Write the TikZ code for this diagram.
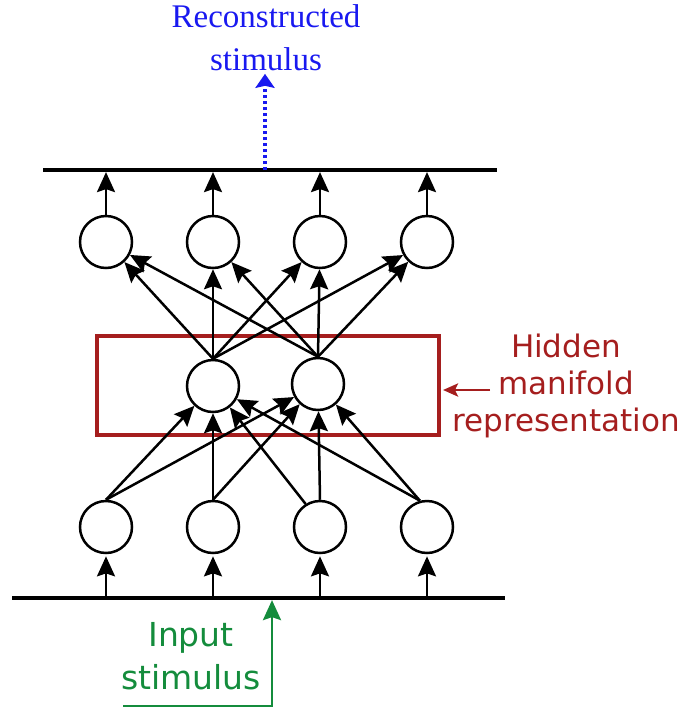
\documentclass[tikz,border=0pt]{standalone}
\usepackage{fontspec}
\setmainfont{Liberation Serif}
\newfontfamily\labelsans{DejaVu Sans}
\usetikzlibrary{arrows.meta}
\definecolor{hidred}{RGB}{165,30,30}
\definecolor{ingreen}{RGB}{20,140,60}
\definecolor{recblue}{RGB}{25,25,240}
\begin{document}
\begin{tikzpicture}[x=1pt,y=-1pt,
  neuron/.style={circle,draw,line width=2.5pt,minimum size=52pt,inner sep=0pt},
  conn/.style={line width=2.5pt,-{Stealth[length=20pt,width=18pt,inset=3pt]}},
  bar/.style={line width=4.2pt}]
\useasboundingbox (0,0) rectangle (680,710);
% bars
\coordinate (tl) at (43,170); \coordinate (tr) at (497,170);
\coordinate (bl) at (12,598); \coordinate (br) at (505,598);
\draw[bar] (tl) -- (tr);
\draw[bar] (bl) -- (br);
% neurons
\foreach \x/\n in {106/1,213/2,320/3,427/4}{
  \node[neuron] (o\n) at (\x,242) {};
  \node[neuron] (i\n) at (\x,527) {};
}
\node[neuron] (h1) at (213,386) {};
\node[neuron] (h2) at (318,384) {};
% hidden box
\node[draw=hidred,line width=4pt,minimum width=342pt,minimum height=99pt,inner sep=0pt] (box) at (268,385.5) {};
% bar arrows
\foreach \n in {1,...,4}{
  \draw[conn,shorten >=2.1pt] (i\n |- bl) -- (i\n);
  \draw[conn,shorten >=2.1pt] (o\n) -- (o\n |- tl);
}
% input to hidden
\draw[conn] (i1.north) -- (h1);
\draw[conn] (i1.north) -- (h2);
\draw[conn] (i2.north) -- (h1);
\draw[conn] (i2.north) -- (h2);
\draw[conn] (i3.122) -- (h1);
\draw[conn] (i3.north) -- (h2);
\draw[conn] (i4.105) -- (h1);
\draw[conn] (i4.105) -- (h2);
% hidden to output
\foreach \h in {1,2}{
  \foreach \o in {1,...,4}{
    \draw[conn] (h\h.north) -- (o\o);
  }
}
% labels
\node[text=recblue,font=\fontsize{33}{43}\selectfont,align=center,inner sep=0pt] (rl) at (266,37.5) {Reconstructed\\stimulus};
\coordinate (rs) at (265,170);
\draw[recblue,line width=3.8pt,dash pattern=on 3pt off 3pt,-{Stealth[length=14pt,width=19pt,inset=2pt]}] (rs) -- ([yshift=-3pt]rs |- rl.south);

\node[text=hidred,font=\labelsans\fontsize{31}{37}\selectfont,align=center,inner sep=0pt] (hl) at (566,385.5) {Hidden\\manifold\\representation};
\coordinate (ha) at (490,390);
\draw[hidred,line width=2.8pt,-{Stealth[length=15pt,width=13pt,inset=3pt]}] (ha) -- ([xshift=2pt]box.east |- ha);

\node[text=ingreen,font=\labelsans\fontsize{33}{43}\selectfont,align=center,inner sep=0pt] (il) at (191,656.5) {Input\\stimulus};
\coordinate (gs) at (123,706); \coordinate (gc) at (272,706);
\draw[ingreen,line width=2.6pt,-{Stealth[length=20pt,width=18pt,inset=3pt]},shorten >=2.1pt] (gs) -- (gc) -- (gc |- bl);
\end{tikzpicture}
\end{document}
